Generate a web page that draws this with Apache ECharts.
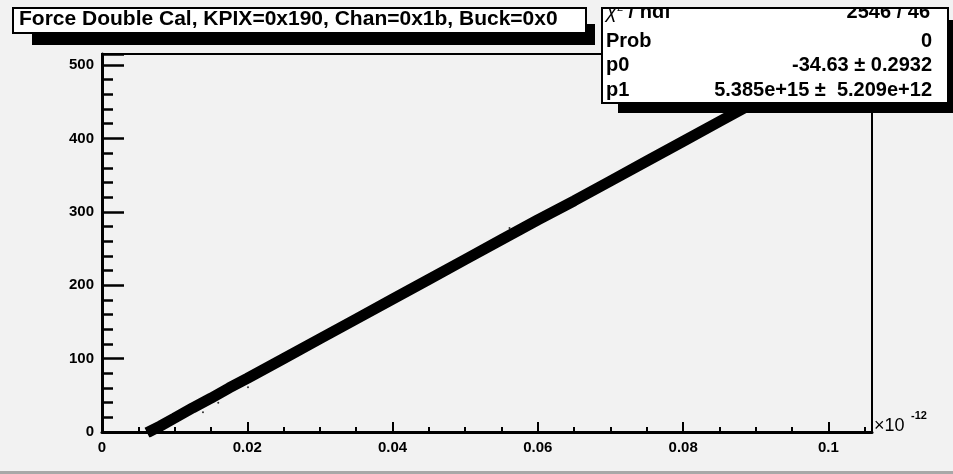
<!DOCTYPE html>
<html><head><meta charset="utf-8">
<script src="https://cdn.jsdelivr.net/npm/echarts@6/dist/echarts.min.js"></script>
<style>html,body{margin:0;padding:0;background:#f2f2f2;}#c{width:953px;height:474px;}</style>
</head><body><div id="c"></div>
<script>
// Data (x in units of 1e-12)
const lineX = [0.0062, 0.0080, 0.0100, 0.0125, 0.0150, 0.0175, 0.0200, 0.0250, 0.0300, 0.0350, 0.0400, 0.0450, 0.0500, 0.0550, 0.0600, 0.0650, 0.0700, 0.0750, 0.0800, 0.0850, 0.0900, 0.0950];
const lineY = [-1, 8, 19, 33, 46, 60, 73, 100, 127, 154, 181, 208, 235, 262, 289, 315, 342, 369, 396, 423, 450, 477];
const strayX = [0.0139, 0.0160, 0.0201, 0.0561];
const strayY = [27, 40, 61, 278];
const xTicks = ['0', '0.02', '0.04', '0.06', '0.08', '0.1'];
const yTicks = ['0', '100', '200', '300', '400', '500'];
const titleText = 'Force Double Cal, KPIX=0x190, Chan=0x1b, Buck=0x0';
const statLabels = ['Prob', 'p0', 'p1'];
const statValues = ['0', '-34.63 ± 0.2932', '5.385e+15 ±  5.209e+12'];
const chiValue = '2546 / 46';

const chart = echarts.init(document.getElementById('c'), null, {renderer: 'canvas'});
const F = 'Liberation Sans, Helvetica, Arial, sans-serif';
const lineData = lineX.map((x, i) => [x, lineY[i]]);
const strayData = strayX.map((x, i) => [x, strayY[i]]);

const statsTexts = [];
const rowY = [42, 66, 91];
statLabels.forEach((l, i) => {
  statsTexts.push({type: 'text', left: 606, top: rowY[i] - 11, z: 102,
    style: {text: l, font: 'bold 20px ' + F, fill: '#000'}});
  statsTexts.push({type: 'text', right: 953 - 932, top: rowY[i] - 11, z: 102,
    style: {text: statValues[i], font: 'bold 20px ' + F, fill: '#000', align: 'right'}});
});

chart.setOption({
  backgroundColor: '#f2f2f2',
  animation: false,
  grid: {left: 102, right: 81, top: 54, bottom: 42, show: true, borderColor: '#000', borderWidth: 2, backgroundColor: 'transparent'},
  xAxis: {
    type: 'value', min: 0, max: 0.106, interval: 0.02,
    axisLine: {show: true, onZero: false, lineStyle: {color: '#000', width: 3}},
    axisTick: {show: true, inside: true, length: 10, lineStyle: {color: '#000', width: 2}},
    minorTick: {show: true, splitNumber: 4, length: 5, lineStyle: {color: '#000', width: 2}},
    splitLine: {show: false},
    axisLabel: {showMaxLabel: false, margin: 8, color: '#000', fontFamily: F, fontWeight: 'bold', fontSize: 15,
      formatter: (v) => { const i = Math.round(v / 0.02); return Math.abs(v - i * 0.02) < 1e-9 ? xTicks[i] : ''; }}
  },
  yAxis: {
    type: 'value', min: 0, max: 515, interval: 100,
    axisLine: {show: true, onZero: false, lineStyle: {color: '#000', width: 3}},
    axisTick: {show: true, inside: true, length: 22, lineStyle: {color: '#000', width: 2.5}},
    minorTick: {show: true, splitNumber: 5, length: 11, lineStyle: {color: '#000', width: 2.5}},
    splitLine: {show: false},
    axisLabel: {showMaxLabel: false, margin: 8, color: '#000', fontFamily: F, fontWeight: 'bold', fontSize: 15,
      formatter: (v) => { const i = Math.round(v / 100); return Math.abs(v - i * 100) < 1e-6 ? yTicks[i] : ''; }}
  },
  series: [
    {type: 'line', data: lineData, showSymbol: false, clip: true, lineStyle: {color: '#000', width: 11}, z: 3},
    {type: 'scatter', data: strayData, symbolSize: 2, itemStyle: {color: '#000'}, z: 4}
  ],
  graphic: [
    // x10^-12 label
    {type: 'text', left: 874, top: 417, z: 50, style: {text: '×10', font: '18px ' + F, fill: '#000'}},
    {type: 'text', left: 911, top: 410, z: 50, style: {text: '-12', font: 'bold 11px ' + F, fill: '#000'}},
    // title shadow + box
    {type: 'rect', shape: {x: 32, y: 24, width: 563, height: 21}, style: {fill: '#000'}, z: 100},
    {type: 'rect', shape: {x: 13, y: 8, width: 573, height: 25}, style: {fill: '#fff', stroke: '#000', lineWidth: 2}, z: 101},
    {type: 'text', left: 19, top: 9, z: 102, style: {text: titleText, font: 'bold 21px ' + F, fill: '#000'}},
    // stats shadow + box
    {type: 'rect', shape: {x: 618, y: 20, width: 340, height: 93}, style: {fill: '#000'}, z: 100},
    {type: 'rect', shape: {x: 602, y: 8, width: 346, height: 95}, style: {fill: '#fff', stroke: '#000', lineWidth: 2}, z: 101},
    {type: 'text', left: 606, top: 2, z: 102, style: {text: '{c|χ}{s|2}{n| / ndf}', rich: {
      c: {font: 'italic 20px ' + F, fill: '#000'},
      s: {font: '11px ' + F, fill: '#000', verticalAlign: 'top'},
      n: {font: 'bold 20px ' + F, fill: '#000'}}}},
    {type: 'text', right: 953 - 930, top: 2, z: 102, style: {text: chiValue, font: 'bold 20px ' + F, fill: '#000', align: 'right'}},
    ...statsTexts,
    // clip stats text at top
    {type: 'rect', shape: {x: 600, y: 0, width: 353, height: 7}, style: {fill: '#f2f2f2'}, z: 103},
    {type: 'line', shape: {x1: 602, y1: 8, x2: 948, y2: 8}, style: {stroke: '#000', lineWidth: 2}, z: 104},
    // bottom border strip
    {type: 'rect', shape: {x: 0, y: 471, width: 953, height: 3}, style: {fill: '#a8a8a8'}, z: 50}
  ]
});
</script></body></html>
